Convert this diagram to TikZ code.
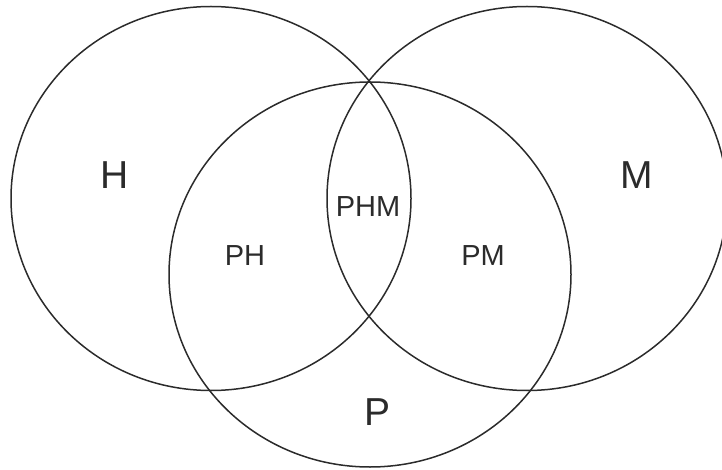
\documentclass[tikz,border=0pt]{standalone}
\usepackage{fontspec}
\setmainfont{Liberation Sans}
\usetikzlibrary{shapes.geometric}
\definecolor{ink}{HTML}{2B2B2B}
\begin{document}
\begin{tikzpicture}[x=1pt,y=-1pt,
  setring/.style={ellipse,draw=ink,line width=1.5pt,inner sep=0pt,
    minimum width=400pt,minimum height=384pt},
  biglabel/.style={text=ink,font=\fontsize{39}{39}\selectfont,inner sep=0pt},
  smalllabel/.style={text=ink,font=\fontsize{29}{29}\selectfont,inner sep=0pt}]
  \useasboundingbox (0,0) rectangle (722,470);
  \clip (0,0) rectangle (722,470);
  % the three sets
  \node[setring] (H) at (211,198.5) {};
  \node[setring] (M) at (527,198.5) {};
  \node[setring,minimum width=402pt,minimum height=385pt] (P) at (370,274.5) {};
  % set names
  \node[biglabel] (hl) at (115,175) {H};
  \node[biglabel] (ml) at (637,175) {M};
  \node[biglabel] (pl) at (378,412) {P};
  % overlaps
  \node[smalllabel] (phl) at (245,256) {PH};
  \node[smalllabel] (pml) at (483,256) {PM};
  \node[smalllabel] (phml) at (368,207) {PHM};
\end{tikzpicture}
\end{document}
